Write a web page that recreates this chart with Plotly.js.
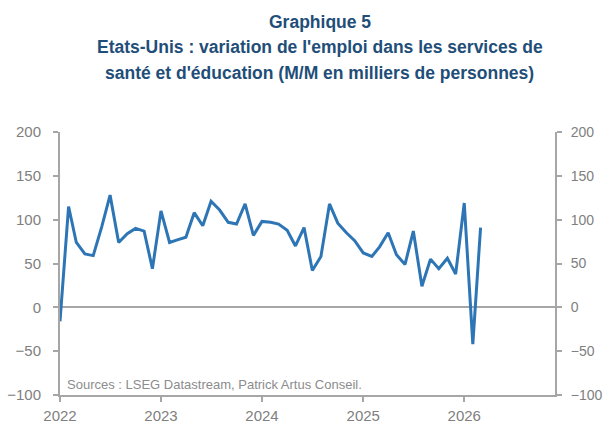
<!DOCTYPE html>
<html>
<head>
<meta charset="utf-8">
<script src="https://cdn.plot.ly/plotly-3.0.1.min.js"></script>
<style>
html,body{margin:0;padding:0;background:#fff;}
#chart{width:603px;height:423px;}
</style>
</head>
<body>
<div id="chart"></div>
<script>
const months = [
  '2022-01-01','2022-02-01','2022-03-01','2022-04-01','2022-05-01','2022-06-01',
  '2022-07-01','2022-08-01','2022-09-01','2022-10-01','2022-11-01','2022-12-01',
  '2023-01-01','2023-02-01','2023-03-01','2023-04-01','2023-05-01','2023-06-01',
  '2023-07-01','2023-08-01','2023-09-01','2023-10-01','2023-11-01','2023-12-01',
  '2024-01-01','2024-02-01','2024-03-01','2024-04-01','2024-05-01','2024-06-01',
  '2024-07-01','2024-08-01','2024-09-01','2024-10-01','2024-11-01','2024-12-01',
  '2025-01-01','2025-02-01','2025-03-01','2025-04-01','2025-05-01','2025-06-01',
  '2025-07-01','2025-08-01','2025-09-01','2025-10-01','2025-11-01','2025-12-01',
  '2026-01-01','2026-02-01','2026-03-01'
];
const emploi = [
  -16, 115, 74, 61, 59, 92, 128, 74, 84, 90, 87, 44,
  110, 74, 77, 80, 108, 93, 121, 111, 97, 95, 118, 82,
  98, 97, 95, 88, 70, 91, 42, 58, 118, 96, 85, 76,
  62, 58, 69, 85, 60, 49, 87, 24, 55, 44, 56, 38,
  119, -42, 91
];
const yearTicks = ['2022-01-01','2023-01-01','2024-01-01','2025-01-01','2026-01-01'];
const yearLabels = ['2022','2023','2024','2025','2026'];
const yTicks = [-100,-50,0,50,100,150,200];
const titleLines = [
  'Graphique 5',
  'Etats-Unis : variation de l\'emploi dans les services de',
  'santé et d\'éducation (M/M en milliers de personnes)'
];

const grey = '#a6a6a6';
const fam = '"Liberation Sans", Arial, sans-serif';
const tickFont = {family:fam, size:15, color:'#808080'};
const titleFont = {family:fam, size:17.5, color:'#1f4e79', weight:'bold'};

const data = [{
  x: months, y: emploi, type:'scatter', mode:'lines',
  line:{color:'#2e75b6', width:3}, hoverinfo:'skip', showlegend:false
},{
  x: months, y: emploi, type:'scatter', mode:'lines', yaxis:'y2',
  line:{color:'rgba(0,0,0,0)', width:0}, hoverinfo:'skip', showlegend:false
}];

// plot area: top 132, bottom 395 (263 px); title line centres at 22, 47, 73 px
const titleY = [1.4183, 1.3232, 1.2243];
const annotations = titleLines.map((t, i) => ({
  text:t, xref:'paper', yref:'paper', x:0.525, y:titleY[i],
  xanchor:'center', yanchor:'middle', showarrow:false, font:titleFont
}));
annotations.push({
  text:'Sources : LSEG Datastream, Patrick Artus Conseil.',
  xref:'paper', yref:'paper', x:0.01, y:0.005, xanchor:'left', yanchor:'bottom',
  showarrow:false,
  font:{family:fam, size:13, color:'#8c8c8c'}
});

const layout = {
  width:603, height:423,
  margin:{l:60, r:48, t:132, b:28},
  paper_bgcolor:'#fff', plot_bgcolor:'#fff',
  xaxis:{
    type:'date', range:['2022-01-01','2026-11-25'],
    tickvals:yearTicks, ticktext:yearLabels,
    showgrid:false, zeroline:false,
    showline:true, linecolor:grey, linewidth:2,
    ticks:'outside', ticklen:5, tickwidth:2, tickcolor:grey,
    tickfont:tickFont, ticklabelstandoff:1
  },
  yaxis:{
    range:[-100,200], tickvals:yTicks,
    showgrid:false, zeroline:true, zerolinecolor:grey, zerolinewidth:2,
    showline:true, linecolor:grey, linewidth:2,
    ticks:'outside', ticklen:5, tickwidth:2, tickcolor:grey,
    tickfont:tickFont, ticklabelstandoff:9
  },
  yaxis2:{
    overlaying:'y', side:'right', range:[-100,200], tickvals:yTicks,
    showgrid:false, zeroline:false,
    showline:true, linecolor:grey, linewidth:2,
    ticks:'outside', ticklen:5, tickwidth:2, tickcolor:grey,
    tickfont:{family:fam, size:14, color:'#808080'}, ticklabelstandoff:6
  },
  annotations:annotations
};

Plotly.newPlot('chart', data, layout, {displayModeBar:false, staticPlot:true});
</script>
</body>
</html>
